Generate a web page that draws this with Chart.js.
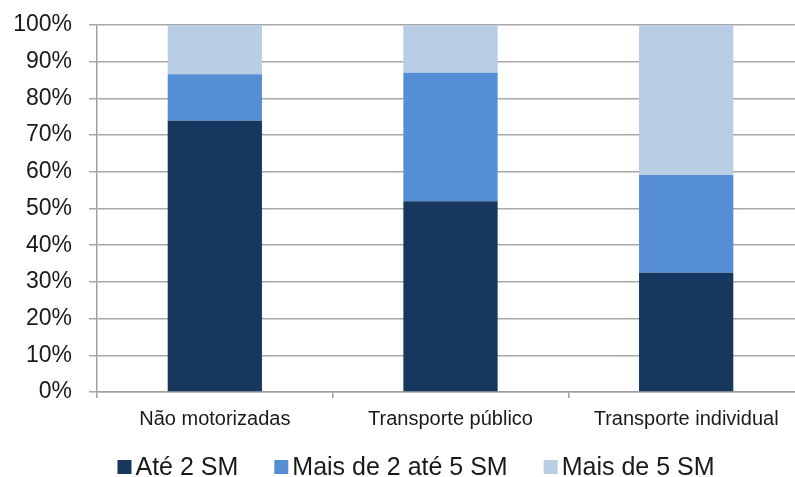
<!DOCTYPE html>
<html>
<head>
<meta charset="utf-8">
<script src="https://cdn.jsdelivr.net/npm/chart.js@4/dist/chart.umd.min.js"></script>
<style>
  html, body { margin: 0; padding: 0; background: #fff; overflow: hidden; width: 795px; height: 477px; }
  /* the canvas is a little wider than the page so the plot runs off the right edge */
  #wrap { width: 810px; height: 477px; }
</style>
</head>
<body>
<div id="wrap"><canvas id="c" width="810" height="477"></canvas></div>
<script>
// Modal share by income bracket (percent of trips)
const categories = ['Não motorizadas', 'Transporte público', 'Transporte individual'];
const seriesNames = ['Até 2 SM', 'Mais de 2 até 5 SM', 'Mais de 5 SM'];
const ate2SM = [73.9, 52.0, 32.5];
const de2a5SM = [12.7, 35.0, 26.6];
const mais5SM = [13.4, 13.0, 40.9];
const seriesColors = ['#17375E', '#558ED5', '#B9CDE5'];

const FONT = "'Liberation Sans', Arial, sans-serif";

// Legend drawn as a single centred row below the axis
const bottomLegend = {
  id: 'bottomLegend',
  afterDraw(chart) {
    const ctx = chart.ctx;
    const box = 14, gapText = 4, gapItem = 36, centerX = 416, midY = 467;
    ctx.save();
    ctx.font = '25px ' + FONT;
    ctx.textBaseline = 'middle';
    ctx.textAlign = 'left';
    const items = chart.data.datasets.map(ds => ({
      label: ds.label, color: ds.backgroundColor,
      w: box + gapText + ctx.measureText(ds.label).width
    }));
    const total = items.reduce((s, it) => s + it.w, 0) + gapItem * (items.length - 1);
    let x = centerX - total / 2;
    items.forEach(it => {
      ctx.fillStyle = it.color;
      ctx.fillRect(x, midY - box / 2, box, box);
      ctx.fillStyle = '#1a1a1a';
      ctx.fillText(it.label, x + box + gapText, midY + 1);
      x += it.w + gapItem;
    });
    ctx.restore();
  }
};

new Chart(document.getElementById('c'), {
  type: 'bar',
  data: {
    labels: categories,
    datasets: [
      { label: seriesNames[0], data: ate2SM, backgroundColor: seriesColors[0] },
      { label: seriesNames[1], data: de2a5SM, backgroundColor: seriesColors[1] },
      { label: seriesNames[2], data: mais5SM, backgroundColor: seriesColors[2] }
    ]
  },
  options: {
    responsive: false,
    animation: false,
    devicePixelRatio: 1,
    layout: { padding: { top: 25, right: 6, bottom: 0, left: 0 } },
    datasets: { bar: { barPercentage: 0.4, categoryPercentage: 1.0, borderWidth: 0 } },
    plugins: {
      legend: { display: false },
      tooltip: { enabled: false }
    },
    scales: {
      x: {
        stacked: true,
        afterFit(scale) {
          scale.height = 85;
          scale.paddingLeft = 0;
          scale.paddingRight = 0;
        },
        grid: { display: true, drawOnChartArea: false, drawTicks: true, tickLength: 6, color: '#a0a0a0', lineWidth: 1.5 },
        border: { display: true, color: '#a0a0a0', width: 1.5 },
        ticks: { color: '#1a1a1a', font: { family: FONT, size: 20 }, padding: 9, maxRotation: 0 }
      },
      y: {
        stacked: true,
        min: 0, max: 100,
        afterFit(scale) {
          scale.width = 97;
          scale.paddingTop = 0;
          scale.paddingBottom = 0;
        },
        grid: { color: '#a8a8a8', lineWidth: 1.5, tickLength: 8, drawTicks: true },
        border: { display: true, color: '#a0a0a0', width: 1.5 },
        ticks: {
          stepSize: 10,
          padding: 17,
          color: '#1a1a1a',
          font: { family: FONT, size: 23 },
          callback: v => v + '%'
        }
      }
    }
  },
  plugins: [bottomLegend]
});
</script>
</body>
</html>
